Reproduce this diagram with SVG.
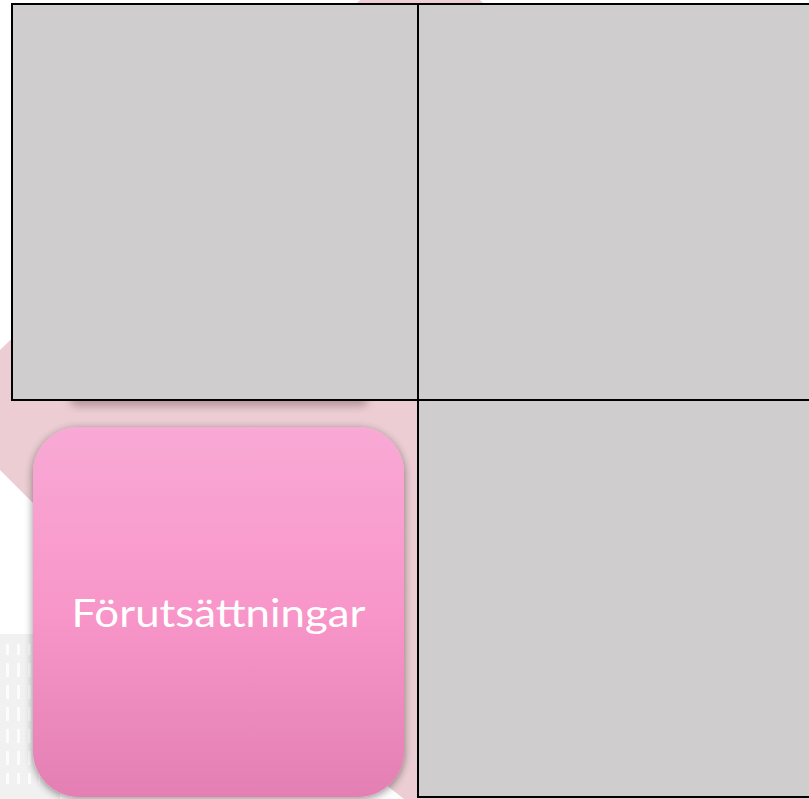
<svg xmlns="http://www.w3.org/2000/svg" width="809" height="799" viewBox="0 0 809 799">
  <defs>
    <linearGradient id="pinkGrad" x1="0" y1="0" x2="0" y2="1">
      <stop offset="0" stop-color="#f9a9d5"/>
      <stop offset="0.5" stop-color="#f896c9"/>
      <stop offset="1" stop-color="#e37fb3"/>
    </linearGradient>
    <filter id="shadow" x="-10%" y="-10%" width="120%" height="120%">
      <feGaussianBlur in="SourceAlpha" stdDeviation="4"/>
      <feOffset dx="0" dy="2" result="b"/>
      <feComponentTransfer><feFuncA type="linear" slope="0.45"/></feComponentTransfer>
      <feMerge><feMergeNode/><feMergeNode in="SourceGraphic"/></feMerge>
    </filter>
    <filter id="blur" x="-20%" y="-50%" width="140%" height="200%">
      <feGaussianBlur stdDeviation="4"/>
    </filter>
    <pattern id="dots" width="11" height="22" patternUnits="userSpaceOnUse">
      <rect x="6" y="3" width="3" height="14" fill="#ffffff"/>
    </pattern>
    <style>
      .cell { fill: #cfcdce; stroke: #000000; stroke-width: 2; }
      .label { font-family: "Lato", "Open Sans", sans-serif; font-size: 38px; fill: #ffffff; }
    </style>
  </defs>

  <rect width="809" height="799" fill="#ffffff"/>

  <g id="background">
    <rect x="0" y="634" width="60" height="165" fill="#f1f1f1"/>
    <rect x="0" y="644" width="40" height="140" fill="url(#dots)" opacity="0.8"/>
    <polygon points="0,350 360,0 480,0 809,330 809,799 404,799 60,530 0,470" fill="#ebcdd3"/>
  </g>

  <g id="hidden-box-shadow">
    <rect x="70" y="392" width="298" height="14" rx="7" fill="#8a6670" opacity="0.55" filter="url(#blur)"/>
  </g>

  <g id="node-forutsattningar">
    <rect x="33" y="427" width="371" height="370" rx="46" fill="url(#pinkGrad)" filter="url(#shadow)"/>
    <text class="label" x="218.5" y="627" text-anchor="middle" textLength="294" lengthAdjust="spacingAndGlyphs">Förutsättningar</text>
  </g>

  <g id="node-top-left">
    <rect class="cell" x="12" y="4" width="406" height="396"/>
  </g>
  <g id="node-top-right">
    <rect class="cell" x="418" y="4" width="395" height="396"/>
  </g>
  <g id="node-bottom-right">
    <rect class="cell" x="418" y="400" width="395" height="397"/>
  </g>

  <g id="connectors"></g>
</svg>
